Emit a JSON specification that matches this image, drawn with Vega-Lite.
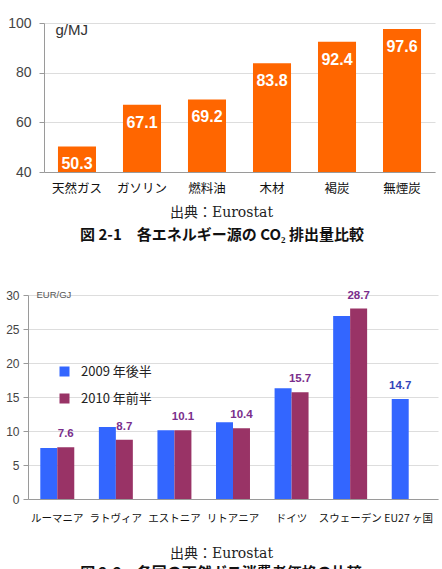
{
  "$schema": "https://vega.github.io/schema/vega-lite/v6.json",
  "background": "white",
  "padding": {"left": 5, "top": 16, "right": 4, "bottom": 0},
  "columns": 1,
  "spacing": 46,
  "resolve": {"scale": {"color": "independent"}, "legend": {"color": "independent"}},
  "config": {
    "view": {"stroke": null},
    "font": "Liberation Sans",
    "axis": {"gridColor": "#dddddd", "domainColor": "#9a9a9a", "tickColor": "#9a9a9a"}
  },
  "concat": [
    {
      "width": 407,
      "height": 149,
      "data": {"values": [
        {"source": "天然ガス", "value": 50.3},
        {"source": "ガソリン", "value": 67.1},
        {"source": "燃料油", "value": 69.2},
        {"source": "木材", "value": 83.8},
        {"source": "褐炭", "value": 92.4},
        {"source": "無煙炭", "value": 97.6}
      ]},
      "title": {"text": "図 2-1　各エネルギー源の CO₂ 排出量比較", "orient": "bottom", "anchor": "middle", "dx": -9.5, "offset": 8, "font": "Noto Sans CJK JP", "fontSize": 15, "fontWeight": "bold", "color": "#111111"},
      "encoding": {
        "x": {"field": "source", "type": "nominal", "sort": null,
          "scale": {"range": [16, 407], "paddingInner": 0.415, "paddingOuter": 0.215},
          "axis": {"labelAngle": 0, "ticks": false, "labelFont": "Noto Sans CJK JP", "labelFontSize": 12.5, "labelColor": "#111111", "labelPadding": 10,
            "title": "出典：Eurostat", "titleFont": "DejaVu Serif, Noto Sans CJK JP", "titleFontSize": 14, "titleFontWeight": "normal", "titleColor": "#222222", "titlePadding": 11, "titleX": 193}},
        "y": {"field": "value", "type": "quantitative",
          "scale": {"domain": [40, 100], "zero": false, "nice": false},
          "axis": {"offset": -16, "values": [40, 60, 80, 100], "labelFontSize": 14, "labelColor": "#444444", "tickSize": 5, "labelPadding": 8,
            "title": "g/MJ", "titleAngle": 0, "titleAlign": "left", "titleBaseline": "middle", "titleX": 11, "titleY": 6, "titleFontSize": 15, "titleFontWeight": "normal", "titleColor": "#333333"}}
      },
      "layer": [
        {"mark": {"type": "bar", "color": "#ff6600", "clip": true}},
        {"mark": {"type": "text", "color": "white", "fontWeight": "bold", "fontSize": 16, "baseline": "middle", "dy": 18},
          "encoding": {"text": {"field": "value", "type": "quantitative", "format": ".1f"}}}
      ]
    },
    {
      "width": 410,
      "height": 204,
      "data": {"values": [
        {"country": "ルーマニア", "series": "2009 年後半", "value": 7.5, "label": null},
        {"country": "ルーマニア", "series": "2010 年前半", "value": 7.6, "label": "7.6"},
        {"country": "ラトヴィア", "series": "2009 年後半", "value": 10.6, "label": null},
        {"country": "ラトヴィア", "series": "2010 年前半", "value": 8.7, "label": "8.7"},
        {"country": "エストニア", "series": "2009 年後半", "value": 10.1, "label": null},
        {"country": "エストニア", "series": "2010 年前半", "value": 10.1, "label": "10.1"},
        {"country": "リトアニア", "series": "2009 年後半", "value": 11.3, "label": null},
        {"country": "リトアニア", "series": "2010 年前半", "value": 10.4, "label": "10.4"},
        {"country": "ドイツ", "series": "2009 年後半", "value": 16.3, "label": null},
        {"country": "ドイツ", "series": "2010 年前半", "value": 15.7, "label": "15.7"},
        {"country": "スウェーデン", "series": "2009 年後半", "value": 26.9, "label": null},
        {"country": "スウェーデン", "series": "2010 年前半", "value": 28.0, "label": "28.7"},
        {"country": "EU27 ヶ国", "series": "2009 年後半", "value": 14.7, "label": "14.7"}
      ]},
      "title": {"text": "図 2-2　各国の天然ガス消費者価格の比較", "orient": "bottom", "anchor": "middle", "dx": -12, "offset": 5, "font": "Noto Sans CJK JP", "fontSize": 15, "fontWeight": "bold", "color": "#111111"},
      "encoding": {
        "x": {"field": "country", "type": "nominal", "sort": null,
          "scale": {"paddingInner": 0.42, "paddingOuter": 0.21},
          "axis": {"labelAngle": 0, "ticks": false, "labelFont": "Noto Sans CJK JP", "labelFontSize": 10.5, "labelColor": "#111111", "labelPadding": 14,
            "title": "出典：Eurostat", "titleFont": "DejaVu Serif, Noto Sans CJK JP", "titleFontSize": 14, "titleFontWeight": "normal", "titleColor": "#222222", "titlePadding": 23, "titleX": 193}},
        "xOffset": {"field": "series", "type": "nominal", "sort": ["2009 年後半", "2010 年前半"], "scale": {"paddingInner": 0}},
        "y": {"field": "value", "type": "quantitative",
          "scale": {"domain": [0, 30], "nice": false},
          "axis": {"values": [0, 5, 10, 15, 20, 25, 30], "labelFontSize": 12, "labelColor": "#444444", "tickSize": 5, "labelPadding": 4,
            "title": "EUR/GJ", "titleAngle": 0, "titleAlign": "left", "titleBaseline": "middle", "titleX": 8, "titleY": -1, "titleFontSize": 9.5, "titleFontWeight": "normal", "titleColor": "#555555"}}
      },
      "layer": [
        {"mark": {"type": "bar"},
          "encoding": {"color": {"field": "series", "type": "nominal", "sort": ["2009 年後半", "2010 年前半"],
            "scale": {"range": ["#3366ff", "#993366"]},
            "legend": {"orient": "none", "legendX": 30, "legendY": 70, "title": null, "symbolType": "square", "symbolSize": 100, "symbolStrokeWidth": 0,
              "labelFont": "Noto Sans CJK JP", "labelFontSize": 13, "labelColor": "#222222", "labelOffset": 10, "rowPadding": 13}}}},
        {"transform": [{"filter": "datum.label != null"}],
          "mark": {"type": "text", "fontWeight": "bold", "fontSize": 11.5, "baseline": "middle", "dy": -13},
          "encoding": {"text": {"field": "label", "type": "nominal"},
            "color": {"condition": {"test": "datum.series === '2009 年後半'", "value": "#3344bb"}, "value": "#7a2e8c"}}}
      ]
    }
  ]
}
